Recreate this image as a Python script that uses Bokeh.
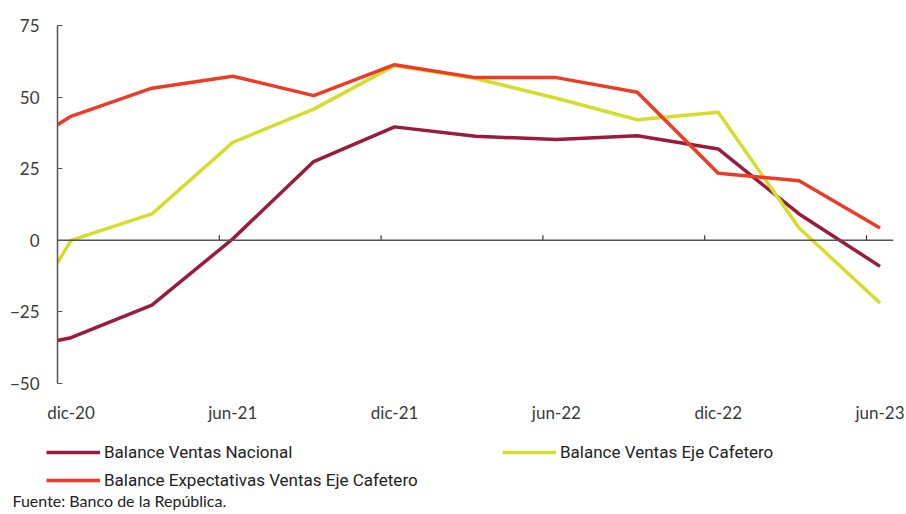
from bokeh.plotting import figure
from bokeh.layouts import column
from bokeh.models import (ColumnDataSource, FixedTicker, Legend, LegendItem,
                          Label, Range1d, Span)
from bokeh.embed import file_html
from bokeh.resources import INLINE

# month index: 0 = dic-20, 30 = jun-23 (first point sits at the left edge)
months = [-0.5, 0, 3, 6, 9, 12, 15, 18, 21, 24, 27, 30]
nacional = [-35.0, -34.0, -22.6, 0.5, 27.5, 39.6, 36.3, 35.2, 36.5, 31.9, 9.2, -9.1]
eje_cafetero = [-7.9, 0.0, 9.2, 34.2, 45.8, 61.0, 56.5, 49.6, 42.1, 44.7, 4.3, -21.9]
expectativas = [40.3, 43.3, 53.1, 57.3, 50.5, 61.3, 56.8, 56.8, 51.7, 23.4, 20.8, 4.3]

label_pos = [0, 6, 12, 18, 24, 30]
label_txt = ["dic-20", "jun-21", "dic-21", "jun-22", "dic-22", "jun-23"]
tick_pos = [5.5, 11.5, 17.5, 23.5, 29.5]
y_ticks = [-50, -25, 0, 25, 50, 75]

names = ["Balance Ventas Nacional", "Balance Ventas Eje Cafetero",
         "Balance Expectativas Ventas Eje Cafetero"]
colors = ["#9B1B3D", "#D5DD2B", "#EE3B26"]
source_note = "Fuente: Banco de la República."

TICK_FONT = "Lato"
LEG_FONT = "Roboto"
TXT = "#3a3a3a"
W = 906

p = figure(width=W, height=425, output_backend="svg", toolbar_location=None,
           x_range=Range1d(-0.5, 30.5), y_range=Range1d(-50, 75),
           min_border_left=57, min_border_right=13, min_border_top=25, min_border_bottom=42)
p.outline_line_color = None
p.grid.visible = False
p.background_fill_color = "white"
p.border_fill_color = "white"
p.frame_align = False

# zero line with short upward ticks
p.add_layout(Span(location=0, dimension="width", line_color="#555555", line_width=1.5))
p.segment(x0=tick_pos, x1=tick_pos, y0=[0] * len(tick_pos), y1=[1.8] * len(tick_pos),
          line_color="#333333", line_width=1.2)

src = ColumnDataSource(dict(x=months, a=nacional, b=eje_cafetero, c=expectativas))
for col, c in zip(["a", "b", "c"], colors):
    p.line("x", col, source=src, line_color=c, line_width=3.5, line_join="round")

# y axis
p.yaxis.ticker = FixedTicker(ticks=y_ticks)
p.yaxis.axis_line_color = "#555555"
p.yaxis.axis_line_width = 1.5
p.yaxis.major_tick_line_color = "#555555"
p.yaxis.major_tick_in = 5
p.yaxis.major_tick_out = 0
p.yaxis.minor_tick_line_color = None
p.yaxis.major_label_standoff = 18
p.yaxis.major_label_text_font = TICK_FONT
p.yaxis.major_label_text_font_size = "17px"
p.yaxis.major_label_text_color = TXT

# bottom axis: labels only
p.xaxis.ticker = FixedTicker(ticks=label_pos)
p.xaxis.major_label_overrides = {k: v for k, v in zip(label_pos, label_txt)}
p.xaxis.axis_line_color = None
p.xaxis.major_tick_line_color = None
p.xaxis.minor_tick_line_color = None
p.xaxis.major_label_standoff = 12
p.xaxis.major_label_text_font = TICK_FONT
p.xaxis.major_label_text_font_size = "17px"
p.xaxis.major_label_text_color = TXT

# legend + source panel (hidden copies of the series provide the legend glyphs)
H2 = 89
p2 = figure(width=W, height=H2, output_backend="svg", toolbar_location=None,
            x_range=Range1d(0, W), y_range=Range1d(0, H2),
            min_border_left=0, min_border_right=0, min_border_top=0, min_border_bottom=0)
p2.axis.visible = False
p2.grid.visible = False
p2.outline_line_color = None
p2.frame_align = False
leg_r = [p2.line("x", col, source=src, line_color=c, line_width=3.5, visible=False)
         for col, c in zip(["a", "b", "c"], colors)]

legend = Legend(items=[LegendItem(label=n, renderers=[r]) for n, r in zip(names, leg_r)],
                orientation="horizontal", ncols=2,
                label_text_font=LEG_FONT, label_text_font_size="17px",
                label_text_color="#222222",
                glyph_width=54, glyph_height=20, label_standoff=4, spacing=8,
                label_height=20, label_width=390, padding=0, margin=0,
                border_line_color=None, background_fill_alpha=0,
                location=(46, 24))
p2.add_layout(legend, "center")

p2.add_layout(Label(x=12, y=14, x_units="screen", y_units="screen", text=source_note,
                    text_font=TICK_FONT, text_font_size="16px", text_color="#222222",
                    text_baseline="alphabetic"))

layout = column(p, p2, spacing=0)
open("out.html", "w").write(file_html(layout, INLINE))
